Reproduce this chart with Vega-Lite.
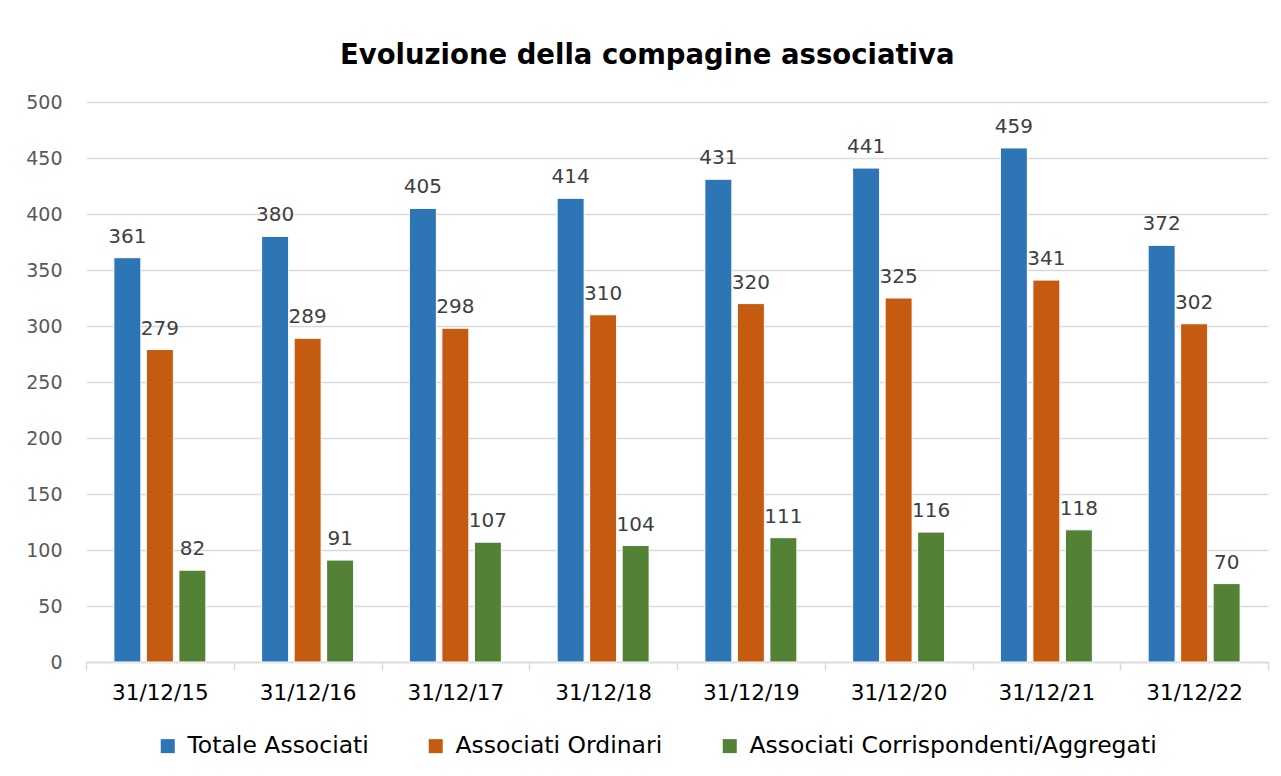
{
  "$schema": "https://vega.github.io/schema/vega-lite/v6.json",
  "width": 1182,
  "height": 560,
  "autosize": {"type": "none"},
  "padding": {"left": 86, "top": 102, "right": 13, "bottom": 114},
  "background": "white",
  "title": {
    "text": "Evoluzione della compagine associativa",
    "font": "DejaVu Sans",
    "fontSize": 27.5,
    "fontWeight": "bold",
    "color": "#000000",
    "anchor": "middle",
    "frame": "bounds",
    "offset": 24
  },
  "config": {
    "view": {"stroke": null},
    "font": "DejaVu Sans"
  },
  "data": {
    "values": [
      {"data": "31/12/15", "serie": "Totale Associati", "valore": 361},
      {"data": "31/12/15", "serie": "Associati Ordinari", "valore": 279},
      {"data": "31/12/15", "serie": "Associati Corrispondenti/Aggregati", "valore": 82},
      {"data": "31/12/16", "serie": "Totale Associati", "valore": 380},
      {"data": "31/12/16", "serie": "Associati Ordinari", "valore": 289},
      {"data": "31/12/16", "serie": "Associati Corrispondenti/Aggregati", "valore": 91},
      {"data": "31/12/17", "serie": "Totale Associati", "valore": 405},
      {"data": "31/12/17", "serie": "Associati Ordinari", "valore": 298},
      {"data": "31/12/17", "serie": "Associati Corrispondenti/Aggregati", "valore": 107},
      {"data": "31/12/18", "serie": "Totale Associati", "valore": 414},
      {"data": "31/12/18", "serie": "Associati Ordinari", "valore": 310},
      {"data": "31/12/18", "serie": "Associati Corrispondenti/Aggregati", "valore": 104},
      {"data": "31/12/19", "serie": "Totale Associati", "valore": 431},
      {"data": "31/12/19", "serie": "Associati Ordinari", "valore": 320},
      {"data": "31/12/19", "serie": "Associati Corrispondenti/Aggregati", "valore": 111},
      {"data": "31/12/20", "serie": "Totale Associati", "valore": 441},
      {"data": "31/12/20", "serie": "Associati Ordinari", "valore": 325},
      {"data": "31/12/20", "serie": "Associati Corrispondenti/Aggregati", "valore": 116},
      {"data": "31/12/21", "serie": "Totale Associati", "valore": 459},
      {"data": "31/12/21", "serie": "Associati Ordinari", "valore": 341},
      {"data": "31/12/21", "serie": "Associati Corrispondenti/Aggregati", "valore": 118},
      {"data": "31/12/22", "serie": "Totale Associati", "valore": 372},
      {"data": "31/12/22", "serie": "Associati Ordinari", "valore": 302},
      {"data": "31/12/22", "serie": "Associati Corrispondenti/Aggregati", "valore": 70}
    ]
  },
  "encoding": {
    "x": {
      "field": "data",
      "type": "nominal",
      "sort": null,
      "scale": {"paddingInner": 0, "paddingOuter": 0},
      "axis": {
        "title": null,
        "labelAngle": 0,
        "labelFont": "DejaVu Sans",
        "labelFontSize": 21.5,
        "labelColor": "#000000",
        "labelPadding": 12,
        "domainColor": "#d9d9d9",
        "domainWidth": 1.5,
        "tickColor": "#d9d9d9",
        "tickWidth": 1.5,
        "tickSize": 8,
        "tickBand": "extent",
        "grid": false
      }
    },
    "xOffset": {
      "field": "serie",
      "type": "nominal",
      "sort": ["Totale Associati", "Associati Ordinari", "Associati Corrispondenti/Aggregati"],
      "scale": {"paddingInner": 0.17, "paddingOuter": 0.858}
    },
    "y": {
      "field": "valore",
      "type": "quantitative",
      "scale": {"domain": [0, 500]},
      "axis": {
        "title": null,
        "values": [0, 50, 100, 150, 200, 250, 300, 350, 400, 450, 500],
        "domain": false,
        "ticks": false,
        "labelFont": "DejaVu Sans",
        "labelFontSize": 19,
        "labelColor": "#595959",
        "labelPadding": 24,
        "gridColor": "#d9d9d9",
        "gridWidth": 1.5
      }
    },
    "color": {
      "field": "serie",
      "type": "nominal",
      "sort": ["Totale Associati", "Associati Ordinari", "Associati Corrispondenti/Aggregati"],
      "scale": {
        "domain": ["Totale Associati", "Associati Ordinari", "Associati Corrispondenti/Aggregati"],
        "range": ["#2E75B6", "#C55A11", "#538135"]
      },
      "legend": {
        "title": null,
        "orient": "none",
        "legendX": 70,
        "legendY": 632,
        "direction": "horizontal",
        "symbolType": "square",
        "symbolSize": 196,
        "symbolStrokeWidth": 0,
        "labelFont": "DejaVu Sans",
        "labelFontSize": 23.5,
        "labelColor": "#000000",
        "labelLimit": 600,
        "labelOffset": 8,
        "columnPadding": 55
      }
    }
  },
  "layer": [
    {"mark": {"type": "bar", "stroke": "white", "strokeWidth": 1}},
    {
      "mark": {"type": "text", "baseline": "bottom", "dy": -11, "font": "DejaVu Sans", "fontSize": 20},
      "encoding": {
        "text": {"field": "valore", "type": "quantitative"},
        "color": {"value": "#404040"}
      }
    }
  ]
}
